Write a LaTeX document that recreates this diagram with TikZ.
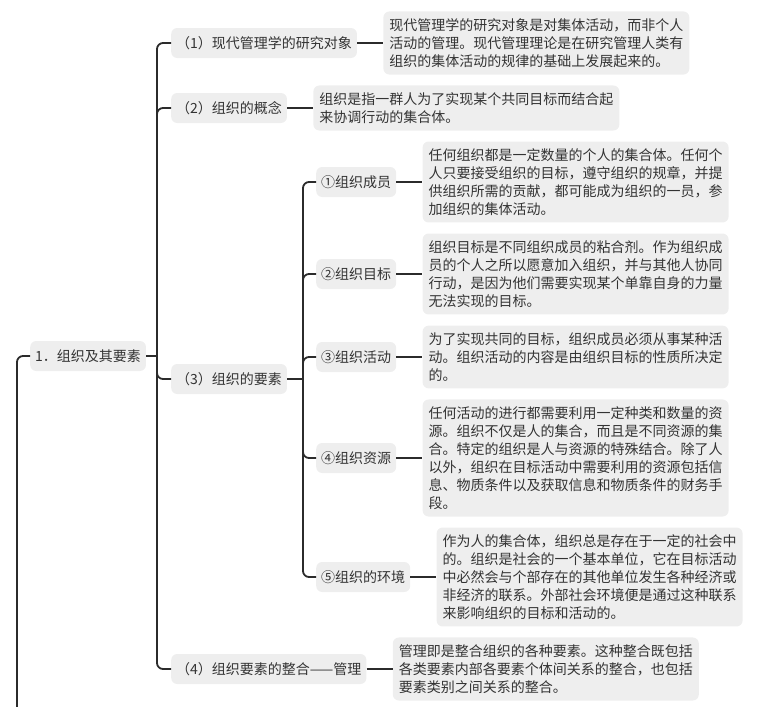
\documentclass[tikz,border=0pt]{standalone}
\usepackage{fontspec}
\setmainfont{Noto Sans CJK SC}
\usetikzlibrary{positioning}
\definecolor{boxgray}{HTML}{EEEEEE}
\definecolor{linegray}{HTML}{2B2B2B}
\definecolor{textgray}{HTML}{333333}

\begin{document}
\begin{tikzpicture}[x=1pt, y=-1pt,
  topic/.style={fill=boxgray, rounded corners=6pt, text=textgray, font=\fontsize{14pt}{18pt}\selectfont,
    anchor=west, minimum height=30pt, inner xsep=5pt, inner ysep=0pt},
  note/.style={fill=boxgray, rounded corners=6pt, text=textgray, font=\fontsize{14pt}{18pt}\selectfont,
    align=left, text width=294pt, inner xsep=6pt, inner ysep=7pt, right=26pt of #1},
  link/.style={draw=linegray, line width=1.8pt, rounded corners=6pt}]
% Fix the page to the size of the picture (in px)
\useasboundingbox (0,0) rectangle (761,707);

% Topic boxes, left side
\node[topic] (root) at (30,356) {1．组织及其要素};
\node[topic] (l1) at (171,43) {（1）现代管理学的研究对象};
\node[topic] (l2) at (171,108) {（2）组织的概念};
\node[topic] (l3) at (171,379) {（3）组织的要素};
\node[topic] (l4) at (171,669) {（4）组织要素的整合——管理};
\node[topic] (s1) at (316,182) {①组织成员};
\node[topic] (s2) at (316,274) {②组织目标};
\node[topic] (s3) at (316,357) {③组织活动};
\node[topic] (s4) at (316,458) {④组织资源};
\node[topic] (s5) at (316,577) {⑤组织的环境};

% Text boxes, right of each topic
\node[note=l1] (d1) {现代管理学的研究对象是对集体活动，而非个人\\活动的管理。现代管理理论是在研究管理人类有\\组织的集体活动的规律的基础上发展起来的。};
\node[note=l2] (d2) {组织是指一群人为了实现某个共同目标而结合起\\来协调行动的集合体。};
\node[note=s1] (e1) {任何组织都是一定数量的个人的集合体。任何个\\人只要接受组织的目标，遵守组织的规章，并提\\供组织所需的贡献，都可能成为组织的一员，参\\加组织的集体活动。};
\node[note=s2] (e2) {组织目标是不同组织成员的粘合剂。作为组织成\\员的个人之所以愿意加入组织，并与其他人协同\\行动，是因为他们需要实现某个单靠自身的力量\\无法实现的目标。};
\node[note=s3] (e3) {为了实现共同的目标，组织成员必须从事某种活\\动。组织活动的内容是由组织目标的性质所决定\\的。};
\node[note=s4] (e4) {任何活动的进行都需要利用一定种类和数量的资\\源。组织不仅是人的集合，而且是不同资源的集\\合。特定的组织是人与资源的特殊结合。除了人\\以外，组织在目标活动中需要利用的资源包括信\\息、物质条件以及获取信息和物质条件的财务手\\段。};
\node[note=s5] (e5) {作为人的集合体，组织总是存在于一定的社会中\\的。组织是社会的一个基本单位，它在目标活动\\中必然会与个部存在的其他单位发生各种经济或\\非经济的联系。外部社会环境便是通过这种联系\\来影响组织的目标和活动的。};
\node[note=l4] (d4) {管理即是整合组织的各种要素。这种整合既包括\\各类要素内部各要素个体间关系的整合，也包括\\要素类别之间关系的整合。};

% Branch lines
\coordinate (up) at (17,707);
\coordinate (j1) at (157,356);
\coordinate (j2) at (303,379);
\draw[link] (up) |- (root.west);
\draw[link] (root.east) -- (j1);
\foreach \n in {l1,l2,l3,l4} \draw[link] (j1) |- (\n.west);
\draw[link] (l3.east) -- (j2);
\foreach \n in {s1,s2,s3,s4,s5} \draw[link] (j2) |- (\n.west);
\foreach \a/\b in {l1/d1,l2/d2,s1/e1,s2/e2,s3/e3,s4/e4,s5/e5,l4/d4} \draw[link] (\a.east) -- (\b.west);
\end{tikzpicture}
\end{document}
